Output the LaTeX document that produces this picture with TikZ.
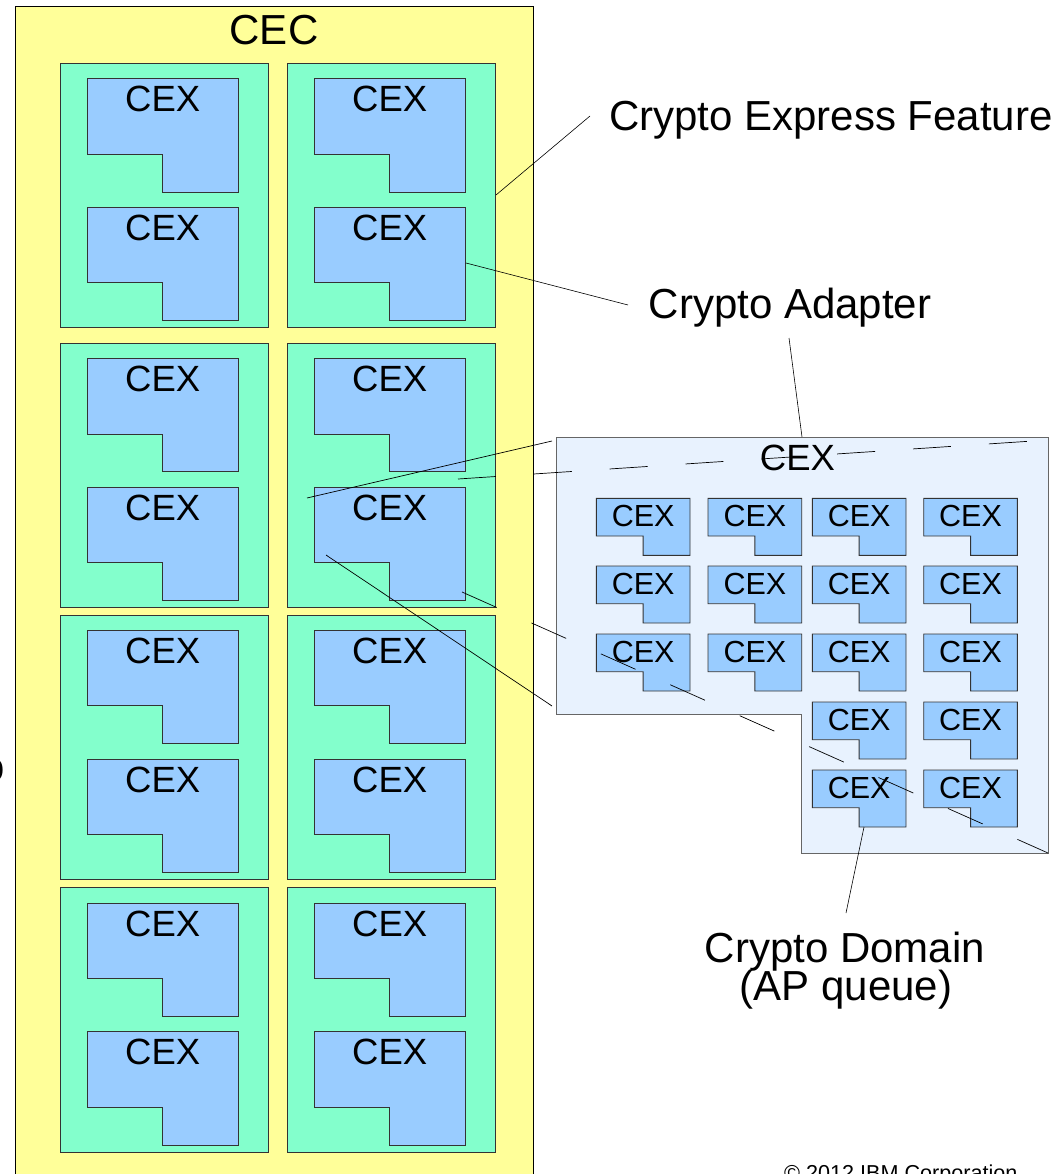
\documentclass[tikz,border=0pt]{standalone}
\usepackage{fontspec}
\setmainfont{Liberation Sans}
\definecolor{cecfill}{HTML}{FFFF99}
\definecolor{featfill}{HTML}{83FFCC}
\definecolor{cexfill}{HTML}{99CCFF}
\definecolor{zoomfill}{HTML}{E8F2FE}
\definecolor{edge}{HTML}{333333}
\definecolor{zoomedge}{HTML}{666666}

% L-shaped adapter outline with its label; #1 name, #2 x, #3 y (top-left corner)
\newcommand\bigcex[3]{%
  \draw[cexbody] (#2,#3) -- ++(151.5,0) -- ++(0,113.3) -- ++(-75.75,0)
    -- ++(0,-37.9) -- ++(-75.75,0) -- cycle;
  \node[cexlbl] (#1) at (#2+75.75,#3+33) {CEX};}
\newcommand\smallcex[3]{%
  \draw[cexbody] (#2,#3) -- ++(93.7,0) -- ++(0,57) -- ++(-46.85,0)
    -- ++(0,-19.3) -- ++(-46.85,0) -- cycle;
  \node[cexsmall] (#1) at (#2+46.85,#3+28.4) {CEX};}

\begin{document}
\begin{tikzpicture}[x=1pt,y=-1pt,
  cecbox/.style={draw=black,line width=0.9pt,fill=cecfill},
  featbox/.style={draw=edge,line width=0.9pt,fill=featfill},
  cexbody/.style={draw=edge,line width=0.9pt,fill=cexfill},
  zoombody/.style={draw=zoomedge,line width=1pt,fill=zoomfill},
  leader/.style={draw=black,line width=0.6pt},
  zoomline/.style={draw=black,line width=0.7pt},
  zoomdash/.style={zoomline,dash pattern=on 38pt off 38pt},
  lbl/.style={inner sep=0pt,anchor=base,font=\fontsize{42}{48}\selectfont},
  cexlbl/.style={inner sep=0pt,anchor=base,font=\fontsize{36.5}{40}\selectfont},
  cexsmall/.style={inner sep=0pt,anchor=base,font=\fontsize{30.5}{34}\selectfont},
]
\useasboundingbox (0,0) rectangle (1061,1174);
\clip (0,0) rectangle (1061,1174);
\fill[white] (0,0) rectangle (1061,1174);

% central electronic complex
\draw[cecbox] (15.5,6) rectangle (533.3,1190);
\node[lbl] (lblcec) at (274,45) {CEC};

% crypto express features, two adapters each
\foreach \gx [count=\ci] in {60.5,287.5} {
  \foreach \gy [count=\ri] in {63.3,343.2,615,887.8} {
    \draw[featbox] (\gx,\gy) rectangle ++(208,264.4);
    \bigcex{cex-\ci-\ri-a}{\gx+26.5}{\gy+15.4}
    \bigcex{cex-\ci-\ri-b}{\gx+26.5}{\gy+144}
  }
}

% end points of the magnification lines
\coordinate (srcTL) at (307,498);
\coordinate (srcBL) at (326,555);
\coordinate (srcTR) at (458,479);
\coordinate (srcBR) at (462,592);
\coordinate (dstTL) at (552,441);
\coordinate (dstBL) at (552,706);
\coordinate (dstTR) at (1048,440);
\coordinate (dstBR) at (1048,853);
\draw[zoomline] (srcTL) -- (dstTL);
\draw[zoomline] (srcBL) -- (dstBL);

% enlarged adapter with its domains
\draw[zoombody] (556,437) -- (1048,437) -- (1048,853) -- (801.5,853)
  -- (801.5,714) -- (556,714) -- cycle;
\node[cexlbl] (zoomtitle) at (797.5,470.7) {CEX};
\foreach \sx [count=\ci] in {596.3,708,812.3,923.7} {
  \foreach \sy [count=\ri] in {498.3,566,634} {
    \smallcex{dom-\ci-\ri}{\sx}{\sy}
  }
}
\foreach \sx [count=\ci from 3] in {812.3,923.7} {
  \foreach \sy [count=\ri from 4] in {702,770} {
    \smallcex{dom-\ci-\ri}{\sx}{\sy}
  }
}
\draw[zoomdash] (srcTR) -- (dstTR);
\draw[zoomdash] (srcBR) -- (dstBR);

% labels and leaders
\node[lbl,anchor=base west] (lblfeat) at (609,131) {Crypto Express Feature};
\node[lbl] (lbladapter) at (790,318) {Crypto Adapter};
\node[lbl] (lbldomain) at (845,962) {Crypto Domain};
\node[lbl] (lblqueue) at (846,1000) {(AP queue)};

\coordinate (featA) at (496,195);
\coordinate (featB) at (590,116);
\coordinate (adapA) at (466,263);
\coordinate (adapB) at (628,305);
\coordinate (adapC) at (789,338);
\coordinate (adapD) at (802,437);
\coordinate (domA) at (864,827);
\coordinate (domB) at (846,913);
\draw[leader] (featA) -- (featB);
\draw[leader] (adapA) -- (adapB);
\draw[leader] (adapC) -- (adapD);
\draw[leader] (domA) -- (domB);

\node[inner sep=0pt,anchor=base west,font=\fontsize{21.6}{24}\selectfont]
  (copyr) at (784,1180.5) {© 2012 IBM Corporation};
\node[lbl,anchor=base west] (edgeglyph) at (-19,781) {o};
\end{tikzpicture}
\end{document}
